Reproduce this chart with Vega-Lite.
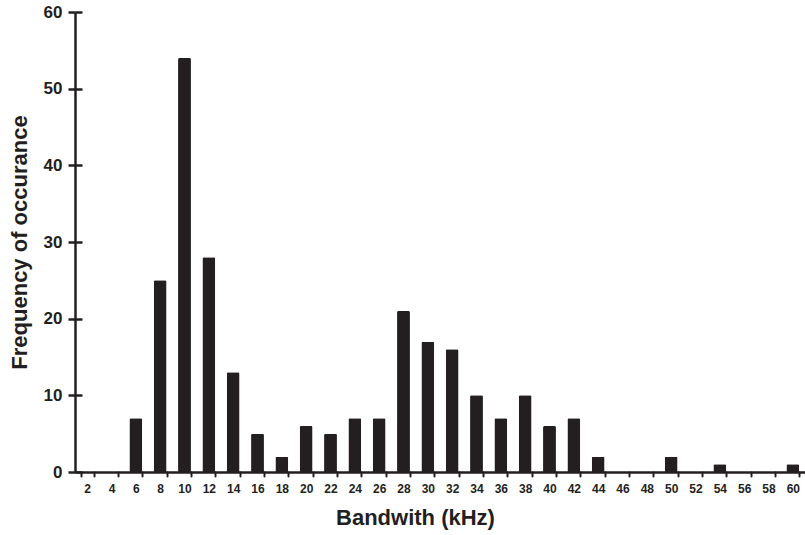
{
  "$schema": "https://vega.github.io/schema/vega-lite/v6.json",
  "width": 730,
  "height": 460,
  "autosize": "none",
  "padding": {"left": 75, "top": 12, "right": 0, "bottom": 63},
  "background": "white",
  "config": {
    "view": {"stroke": null},
    "font": "Liberation Sans",
    "axis": {
      "labelFont": "Liberation Sans",
      "titleFont": "Liberation Sans",
      "labelFontWeight": "bold",
      "titleFontWeight": "bold",
      "labelColor": "#231f20",
      "titleColor": "#231f20",
      "domainColor": "#231f20",
      "tickColor": "#231f20",
      "grid": false
    }
  },
  "data": {
    "values": [
      {"bw": 2, "freq": 0}, {"bw": 4, "freq": 0}, {"bw": 6, "freq": 7},
      {"bw": 8, "freq": 25}, {"bw": 10, "freq": 54}, {"bw": 12, "freq": 28},
      {"bw": 14, "freq": 13}, {"bw": 16, "freq": 5}, {"bw": 18, "freq": 2},
      {"bw": 20, "freq": 6}, {"bw": 22, "freq": 5}, {"bw": 24, "freq": 7},
      {"bw": 26, "freq": 7}, {"bw": 28, "freq": 21}, {"bw": 30, "freq": 17},
      {"bw": 32, "freq": 16}, {"bw": 34, "freq": 10}, {"bw": 36, "freq": 7},
      {"bw": 38, "freq": 10}, {"bw": 40, "freq": 6}, {"bw": 42, "freq": 7},
      {"bw": 44, "freq": 2}, {"bw": 46, "freq": 0}, {"bw": 48, "freq": 0},
      {"bw": 50, "freq": 2}, {"bw": 52, "freq": 0}, {"bw": 54, "freq": 1},
      {"bw": 56, "freq": 0}, {"bw": 58, "freq": 0}, {"bw": 60, "freq": 1}
    ]
  },
  "encoding": {
    "x": {
      "field": "bw",
      "type": "ordinal",
      "sort": null,
      "scale": {"paddingInner": 0.47, "paddingOuter": 0.235},
      "axis": {
        "title": "Bandwith (kHz)",
        "titleFontSize": 22,
        "titlePadding": 13,
        "titleX": 340,
        "labelFontSize": 12,
        "labelAngle": 0,
        "labelPadding": 7,
        "tickBand": "extent",
        "tickSize": 4,
        "tickWidth": 2,
        "tickCap": "round",
        "domainWidth": 2.5
      }
    },
    "y": {
      "field": "freq",
      "type": "quantitative",
      "scale": {"domain": [0, 60], "nice": false}
    }
  },
  "layer": [
    {
      "mark": {"type": "bar", "color": "#231f20", "cornerRadiusTopLeft": 1.5, "cornerRadiusTopRight": 1.5},
      "encoding": {
        "y": {
          "field": "freq",
          "type": "quantitative",
          "axis": {
            "orient": "left",
            "title": "Frequency of occurance",
            "titleFontSize": 22,
            "titlePadding": 12,
            "labelFontSize": 17,
            "labelPadding": 6,
            "values": [0, 10, 20, 30, 40, 50, 60],
            "tickSize": 7,
            "tickWidth": 2.5,
            "domainWidth": 2.5
          }
        }
      }
    },
    {
      "mark": {"type": "bar", "opacity": 0},
      "encoding": {
        "y": {
          "field": "freq",
          "type": "quantitative",
          "axis": {
            "orient": "left",
            "title": null,
            "labels": false,
            "domain": false,
            "offset": -7,
            "values": [0, 10, 20, 30, 40, 50, 60],
            "tickSize": 7,
            "tickWidth": 2.5
          }
        }
      }
    }
  ],
  "resolve": {"axis": {"y": "independent"}}
}
